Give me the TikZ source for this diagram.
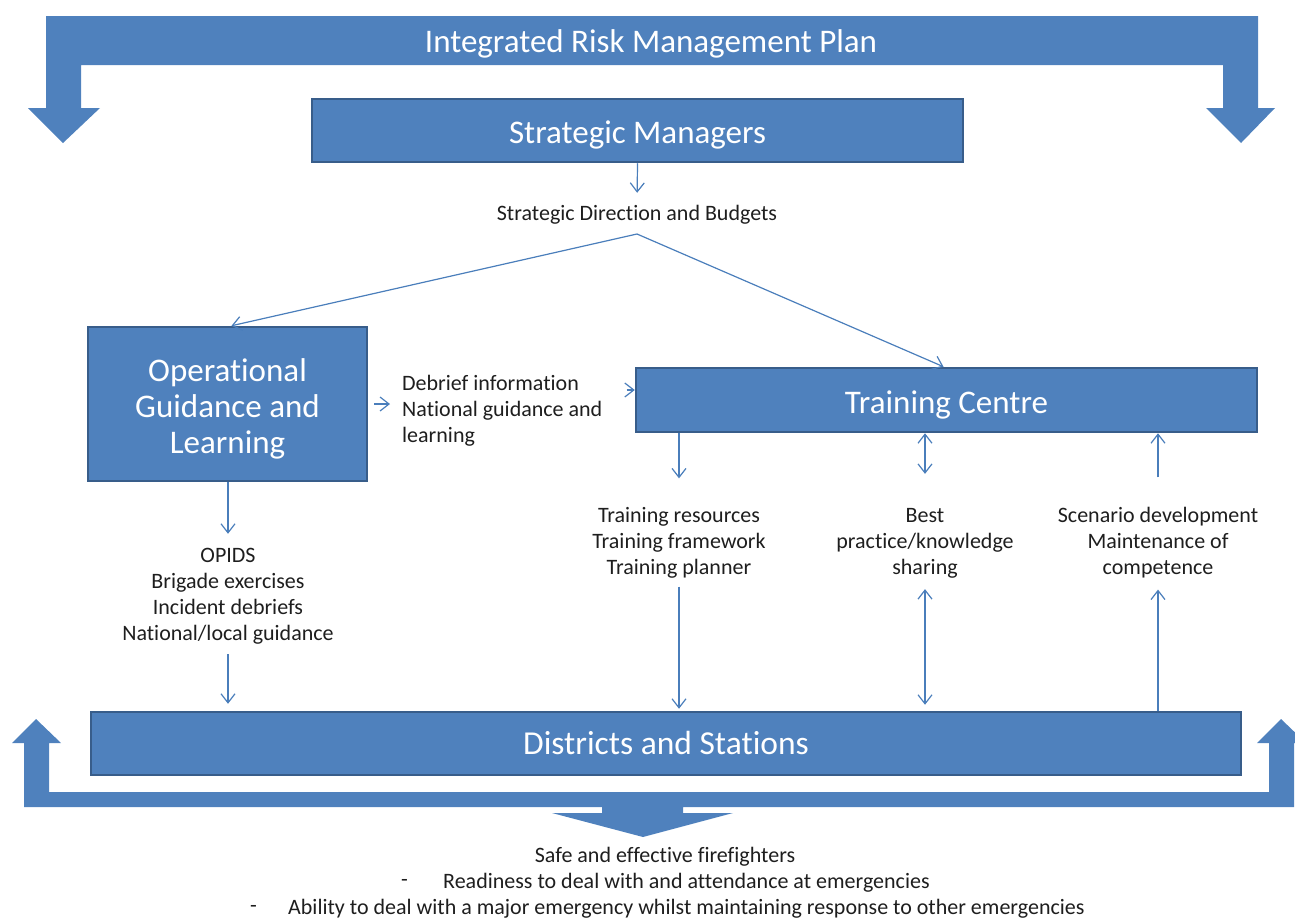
\documentclass[tikz,border=0pt]{standalone}
\usepackage{fontspec}
\setmainfont{Carlito}[Ligatures=NoCommon]
\usetikzlibrary{arrows.meta}
\definecolor{boxfill}{HTML}{4F81BD}
\definecolor{boxedge}{HTML}{385D8A}
\definecolor{conncol}{HTML}{4A7EBB}
\definecolor{txtcol}{HTML}{1E1E1E}
\begin{document}
\begin{tikzpicture}[x=1pt,y=-1pt,
  box/.style={draw=boxedge, line width=2.5pt, fill=boxfill, text=white, inner sep=0pt,
              font=\fontsize{33}{38}\selectfont, text height=26pt, text depth=0pt},
  bigshape/.style={fill=boxfill},
  conn/.style={draw=conncol, line width=1.2pt, -{Straight Barb[length=9pt,width=14pt]}},
  biconn/.style={draw=conncol, line width=1.2pt, {Straight Barb[length=9pt,width=14pt]}-{Straight Barb[length=9pt,width=14pt]}},
  lbl/.style={inner sep=0pt, align=center, text=txtcol, font=\fontsize{22}{26}\selectfont}]
\useasboundingbox (0,0) rectangle (1295,918);

% top bent arrow
\fill[bigshape] (46,16) -- (1258,16) -- (1258,108) -- (1275,108) -- (1241,143) -- (1206,108)
  -- (1223,108) -- (1223,65) -- (81,65) -- (81,108) -- (100,108) -- (63,143) -- (28,108)
  -- (46,108) -- cycle;
\node[inner sep=0pt, text=white, font=\fontsize{33}{38}\selectfont, text height=26pt, text depth=0pt] (irmp) at (651,39) {Integrated Risk Management Plan};

% bottom bent arrow
\fill[bigshape] (24,807) -- (24,743) -- (12,743) -- (36,719) -- (61,743) -- (49,743) -- (49,792)
  -- (1269,792) -- (1269,743) -- (1257,743) -- (1281,719) -- (1306,743) -- (1294,743)
  -- (1294,807) -- (683,807) -- (683,813) -- (733,813) -- (643,837) -- (552,813)
  -- (602,813) -- (602,807) -- cycle;

% boxes
\node[box, minimum width=651pt, minimum height=63pt] (sm) at (637.5,130.5) {Strategic Managers};
\node[box, minimum width=279pt, minimum height=154pt, align=center,
      font=\fontsize{33}{36}\selectfont, text height=99pt, text depth=0pt] (og) at (227.5,404) {Operational\\Guidance and\\Learning};
\node[box, minimum width=621pt, minimum height=64pt] (tc) at (946.5,400) {Training Centre};
\node[box, minimum width=1150pt, minimum height=63pt, font=\fontsize{33.5}{38}\selectfont,
      text height=22pt] (ds) at (666,743.5) {Districts and Stations};

% labels
\node[lbl] (sdb) at (637,215) {Strategic Direction and Budgets};
\node[lbl, align=left, anchor=west] (deb) at (402,411) {Debrief information\\National guidance and\\learning};
\node[lbl] (opids) at (228,596) {OPIDS\\Brigade exercises\\Incident debriefs\\National/local guidance};
\node[lbl] (trres) at (679,543) {Training resources\\Training framework\\Training planner};
\node[lbl] (best) at (925,543) {Best\\practice/knowledge\\sharing};
\node[lbl] (scen) at (1158,543) {Scenario development\\Maintenance of\\competence};

\node[lbl] (safe) at (665,857) {Safe and effective firefighters};
\node[lbl, anchor=west] (dash1) at (401,883) {-};
\node[lbl, anchor=west] (ready) at (443,883) {Readiness to deal with and attendance at emergencies};
\node[lbl, anchor=west] (dash2) at (250,909) {-};
\node[lbl, anchor=west] (able) at (288,909) {Ability to deal with a major emergency whilst maintaining response to other emergencies};

% connectors
\draw[conn, shorten >=12.5pt] (sm.south) -- (sdb.north);
\coordinate (fork) at (637,234);
\draw[conn] (fork) -- ([xshift=4pt]og.north);
\draw[conn] (fork) -- ([xshift=-3pt]tc.north);

\draw[conn, shorten <=6pt, shorten >=12pt] (og.east) -- (og.east -| deb.west);
\coordinate (tcin) at ([yshift=10pt]tc.west);
\draw[conn, shorten <=24pt] (tcin -| deb.east) -- (tcin);

\draw[conn, shorten >=14pt] (og.south -| opids.north) -- (opids.north);
\draw[conn, shorten <=10pt, shorten >=7pt] (opids.south) -- (opids.south |- ds.north);

\draw[conn, shorten >=29pt] (tc.south -| trres.north) -- (trres.north);
\draw[conn, shorten <=8pt, shorten >=2pt] (trres.south) -- (trres.south |- ds.north);

\draw[biconn, shorten >=34pt] (tc.south -| best.north) -- (best.north);
\draw[biconn, shorten <=11pt, shorten >=6pt] (best.south) -- (best.south |- ds.north);

\draw[conn, shorten <=30pt] (scen.north) -- (scen.north |- tc.south);
\draw[conn, shorten >=11pt] (ds.north -| scen.south) -- (scen.south);
\end{tikzpicture}
\end{document}
